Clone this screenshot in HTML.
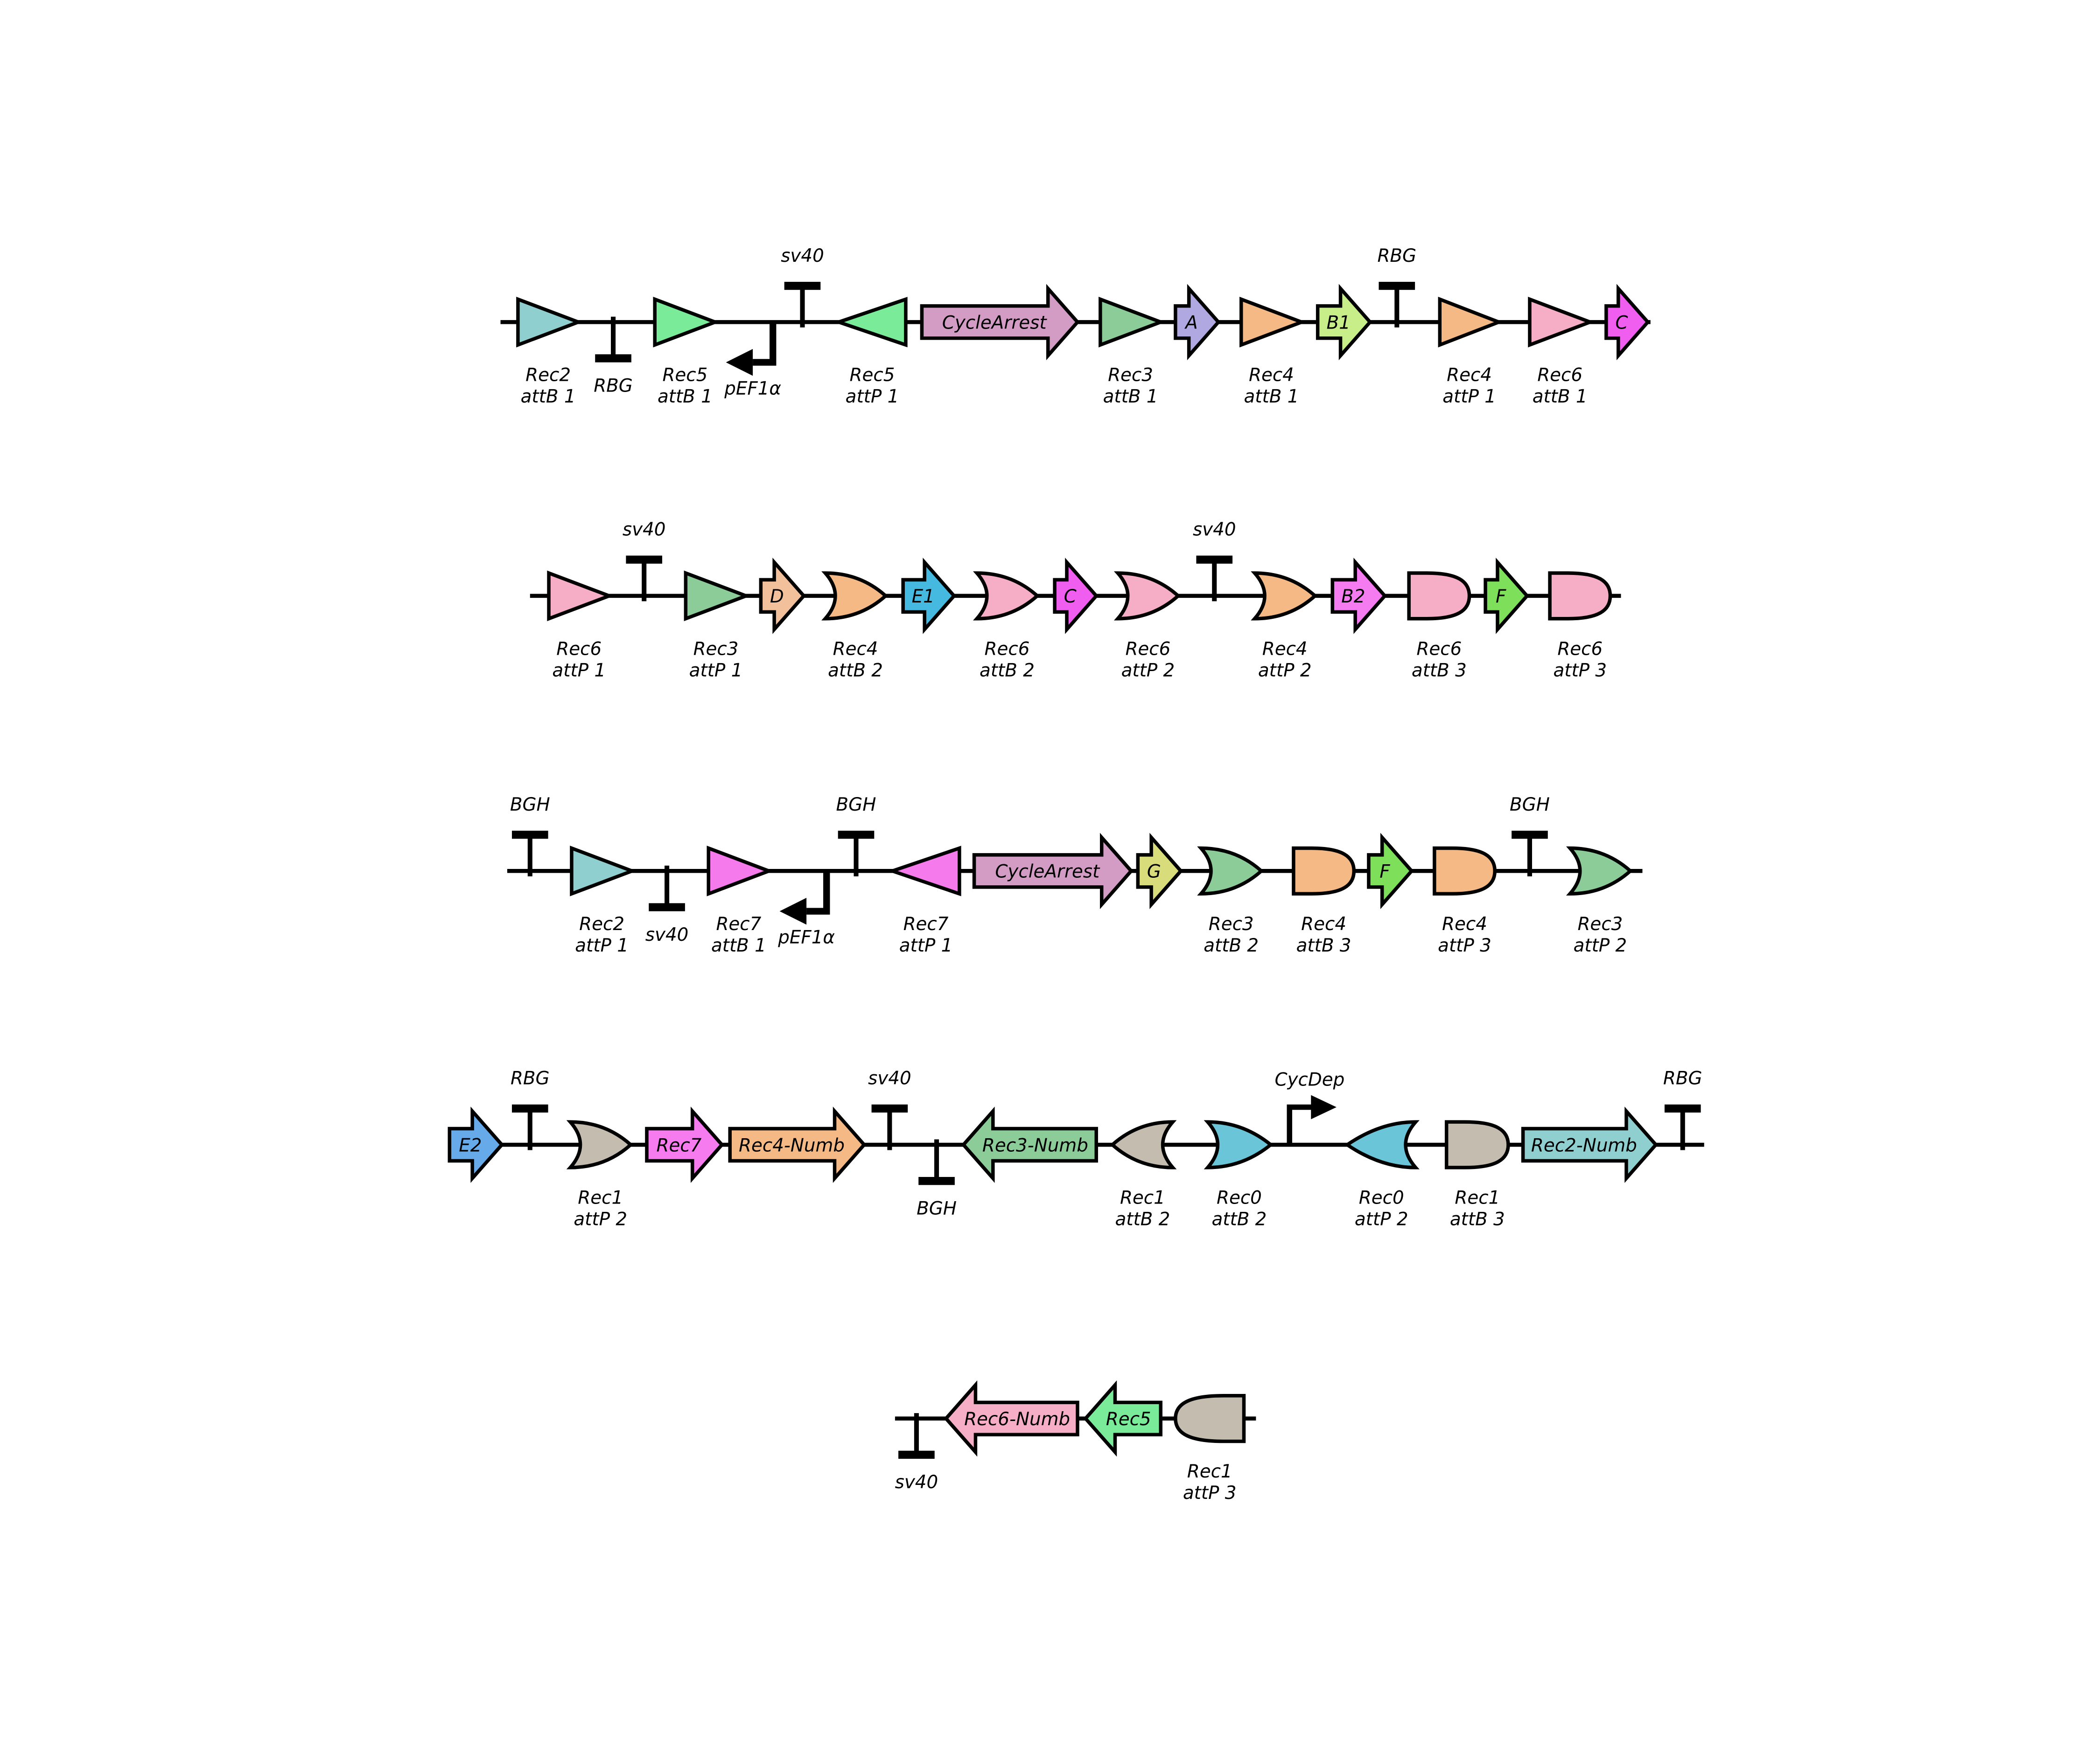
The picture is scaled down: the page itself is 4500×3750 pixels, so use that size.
<!DOCTYPE html>
<html><head><meta charset="utf-8">
<style>
html,body{margin:0;padding:0;background:#fff;}
svg{display:block;}
text{font-family:"DejaVu Sans","Liberation Sans",sans-serif;font-style:italic;font-size:13.5px;fill:#000;}
</style></head>
<body>
<svg id="chart" xmlns="http://www.w3.org/2000/svg" width="4500" height="3750" viewBox="0 0 1565 1304" preserveAspectRatio="none">
<rect x="0" y="0" width="1565" height="1304" fill="#fff"/>
<g id="root" transform="translate(-2,-1)"></g>
</svg>
<script>
const rowY=[241,445,650,854,1058];
const backbones=[[375,1232],[397,1210],[380,1226],[336,1272],[669,938]];
// [row, type, x0, x1, color, label, dir]
const row1=[
[0,'tri',388,433,'#90cfd0','Rec2|attB 1',1],
[0,'term',459,0,'','RBG',-1],
[0,'tri',490,535,'#7aeb98','Rec5|attB 1',1],
[0,'prom',578,0,'','pEF1α',-1],
[0,'term',600,0,'','sv40',1],
[0,'tri',627,677,'#7aeb98','Rec5|attP 1',-1],
[0,'cds',689,805,'#d29cc5','CycleArrest',1],
[0,'tri',822,867,'#8ccc98','Rec3|attB 1',1],
[0,'cds',878,910,'#b0a8e0','A',1],
[0,'tri',927,972,'#f5b985','Rec4|attB 1',1],
[0,'cds',984,1023,'#c8ee8a','B1',1],
[0,'term',1043,0,'','RBG',1],
[0,'tri',1075,1119,'#f5b985','Rec4|attP 1',1],
[0,'tri',1142,1187,'#f5aec5','Rec6|attB 1',1],
[0,'cds',1199,1230,'#ef5eef','C',1]
];
const row2=[
[1,'tri',411,456,'#f5aec5','Rec6|attP 1',1],
[1,'term',482,0,'','sv40',1],
[1,'tri',513,558,'#8ccc98','Rec3|attP 1',1],
[1,'cds',569,601,'#f3c09c','D',1],
[1,'or',617,662,'#f5b985','Rec4|attB 2',1],
[1,'cds',675,713,'#45b9df','E1',1],
[1,'or',730,775,'#f5aec5','Rec6|attB 2',1],
[1,'cds',788,819,'#ef5eef','C',1],
[1,'or',835,880,'#f5aec5','Rec6|attP 2',1],
[1,'term',907,0,'','sv40',1],
[1,'or',937,982,'#f5b985','Rec4|attP 2',1],
[1,'cds',995,1034,'#f47cf0','B2',1],
[1,'d',1052,1097,'#f5aec5','Rec6|attB 3',1],
[1,'cds',1109,1140,'#7ee05a','F',1],
[1,'d',1157,1202,'#f5aec5','Rec6|attP 3',1]
];
const row3=[
[2,'term',397,0,'','BGH',1],
[2,'tri',428,473,'#90cfd0','Rec2|attP 1',1],
[2,'term',499,0,'','sv40',-1],
[2,'tri',530,575,'#f57bec','Rec7|attB 1',1],
[2,'prom',618,0,'','pEF1α',-1],
[2,'term',640,0,'','BGH',1],
[2,'tri',667,717,'#f57bec','Rec7|attP 1',-1],
[2,'cds',728,845,'#d29cc5','CycleArrest',1],
[2,'cds',850,882,'#d8dc7b','G',1],
[2,'or',897,942,'#8ccc98','Rec3|attB 2',1],
[2,'d',966,1011,'#f5b985','Rec4|attB 3',1],
[2,'cds',1022,1054,'#7ee05a','F',1],
[2,'d',1071,1116,'#f5b985','Rec4|attP 3',1],
[2,'term',1142,0,'','BGH',1],
[2,'or',1172,1217,'#8ccc98','Rec3|attP 2',1]
];
const row4=[
[3,'cds',337,376,'#66aaea','E2',1],
[3,'term',397,0,'','RBG',1],
[3,'or',427,472,'#c5bcb0','Rec1|attP 2',1],
[3,'cds',484,540,'#f67bef','Rec7',1],
[3,'cds',546,646,'#f5b985','Rec4-Numb',1],
[3,'term',665,0,'','sv40',1],
[3,'term',700,0,'','BGH',-1],
[3,'cds',720,819,'#8ccc98','Rec3-Numb',-1],
[3,'or',831,876,'#c5bcb0','Rec1|attB 2',-1],
[3,'or',902,949,'#6ac5d8','Rec0|attB 2',1],
[3,'prom',963,0,'','CycDep',1],
[3,'or',1006,1057,'#6ac5d8','Rec0|attP 2',-1],
[3,'d',1080,1126,'#c5bcb0','Rec1|attB 3',1],
[3,'cds',1137,1236,'#90cfd0','Rec2-Numb',1],
[3,'term',1256,0,'','RBG',1]
];
const row5=[
[4,'term',685,0,'','sv40',-1],
[4,'cds',707,805,'#f5aec5','Rec6-Numb',-1],
[4,'cds',811,867,'#7aeb98','Rec5',-1],
[4,'d',878,929,'#c5bcb0','Rec1|attP 3',-1]
];
const NS='http://www.w3.org/2000/svg';
const root=document.getElementById('root');
function mk(tag,attrs,parent){const e=document.createElementNS(NS,tag);for(const k in attrs)e.setAttribute(k,attrs[k]);(parent||root).appendChild(e);return e;}
function txt(x,y,s,parent){const t=mk('text',{x:x,y:y,'text-anchor':'middle'},parent);t.textContent=s;return t;}
backbones.forEach((b,i)=>{
  const l=mk('line',{x1:b[0],x2:b[1],y1:rowY[i],y2:rowY[i],stroke:'#000','stroke-width':3});
  
  
});
function slug(s){return s.replace(/\|/g,'-').replace(/[^A-Za-z0-9]+/g,'-').toLowerCase();}
[row1,row2,row3,row4,row5].forEach(rows=>rows.forEach(p=>{
  const [r,type,x0,x1,color,label,dir]=p;
  const y=rowY[r];
  const g=mk('g',{});
  
  
  const w=x1-x0;
  const mirror=dir<0?'translate('+(x0+x1)+',0) scale(-1,1)':'';
  const st={fill:color,stroke:'#000','stroke-width':2.6,'stroke-linejoin':'miter'};
  let lines=label.split('|');
  if(type==='tri'){
    mk('path',Object.assign({d:`M${x0},${y-17} L${x1},${y} L${x0},${y+17} Z`,transform:mirror},st),g);
    txt((x0+x1)/2,y+44,lines[0],g);txt((x0+x1)/2,y+60,lines[1],g);
  } else if(type==='or'){
    mk('path',Object.assign({d:`M${x0},${y-17} Q${x0+26},${y-17} ${x1},${y} Q${x0+26},${y+17} ${x0},${y+17} Q${x0+15},${y} ${x0},${y-17} Z`,transform:mirror},st),g);
    txt((x0+x1)/2,y+44,lines[0],g);txt((x0+x1)/2,y+60,lines[1],g);
  } else if(type==='d'){
    const xm=x0+w*0.3;
    mk('path',Object.assign({d:`M${x0},${y-17} H${xm} C${xm+w*0.5},${y-17} ${x1},${y-11} ${x1},${y} C${x1},${y+11} ${xm+w*0.5},${y+17} ${xm},${y+17} H${x0} Z`,transform:mirror},st),g);
    txt((x0+x1)/2,y+44,lines[0],g);txt((x0+x1)/2,y+60,lines[1],g);
  } else if(type==='cds'){
    const hl=22;
    mk('path',Object.assign({d:`M${x0},${y-12} H${x1-hl} V${y-25} L${x1},${y} L${x1-hl},${y+25} V${y+12} H${x0} Z`,transform:mirror},st),g);
    const cx=dir>0?(x0+x1-8)/2:(x0+x1+8)/2;
    txt(cx,y+5,label,g);
  } else if(type==='term'){
    mk('line',{x1:x0,x2:x0,y1:y+4*dir,y2:y-27*dir,stroke:'#000','stroke-width':3.5},g);
    mk('rect',{x:x0-13.5,y:dir>0?y-30:y+24,width:27,height:6,fill:'#000'},g);
    txt(x0,dir>0?y-45:y+52,label,g);
  } else if(type==='prom'){
    if(dir<0){
      mk('path',{d:`M${x0},${y} V${y+30} H${x0-15}`,stroke:'#000','stroke-width':5,fill:'none'},g);
      mk('path',{d:`M${x0-15},${y+20} L${x0-35},${y+30} L${x0-15},${y+40} Z`,fill:'#000'},g);
      txt(x0-15,y+54,label,g);
    } else {
      mk('path',{d:`M${x0},${y} V${y-28} H${x0+17}`,stroke:'#000','stroke-width':4,fill:'none'},g);
      mk('path',{d:`M${x0+16},${y-37} L${x0+35},${y-28} L${x0+16},${y-19} Z`,fill:'#000'},g);
      txt(x0+15,y-44,label,g);
    }
  }
}));
</script>
</body></html>
